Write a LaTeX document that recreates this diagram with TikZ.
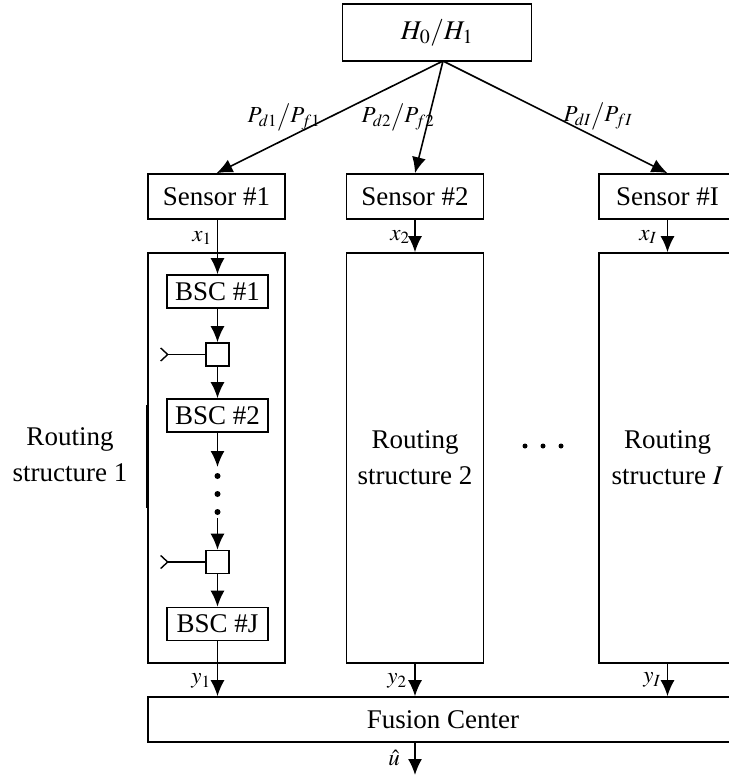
\documentclass[tikz,border=0pt]{standalone}
\usepackage{mathptmx}
\usepackage{fontspec}
\setmainfont{Liberation Serif}
\usetikzlibrary{arrows.meta}

\begin{document}
\begin{tikzpicture}[x=1pt,y=-1pt,line width=1.6pt,
    every node/.style={font=\fontsize{27}{36}\selectfont},
    box/.style={draw,rectangle,inner sep=0pt},
    sensorbox/.style={box,minimum width=137pt,minimum height=45pt},
    routebox/.style={box,minimum width=137pt,minimum height=410pt,align=center},
    bscbox/.style={box,minimum width=101pt,minimum height=33pt},
    mixbox/.style={box,minimum width=23pt,minimum height=23pt},
    lbl/.style={inner sep=0.5pt,font=\fontsize{23}{28}\selectfont},
    arr/.style={-{Latex[length=16pt,width=14pt]}},
    feed/.style={{Straight Barb[reversed,length=7pt,width=13pt,line width=1.4pt]}-},
    dot/.style={circle,fill,inner sep=0pt,minimum size=6pt}]
    \useasboundingbox (0,0) rectangle (728,778);
      % hypothesis
      \node[box,minimum width=189pt,minimum height=57pt] (hyp) at (437,32.5) {$H_0/H_1$};
      \coordinate (top) at (443,61);
      % sensors
      \node[sensorbox] (s1) at (216.5,196.5) {Sensor \#1};
      \node[sensorbox] (s2) at (415,196.5) {Sensor \#2};
      \node[sensorbox] (sI) at (667.5,196.5) {Sensor \#I};
      % routing structures
      \node[routebox] (r1) at (216.5,458) {};
      \node[routebox] (r2) at (415,458) {Routing\\structure 2};
      \node[routebox] (rI) at (667.5,458) {Routing\\structure $I$};
      \node[align=center] (r1txt) at (70,455) {Routing\\structure 1};
      \draw[line width=2.6pt] (147.4,405) -- (147.4,508);
      \node[dot,minimum size=5pt] (h1) at (525,446) {};
      \node[dot,minimum size=5pt] (h2) at (543,446) {};
      \node[dot,minimum size=5pt] (h3) at (561,446) {};
      % chain in routing structure 1
      \node[bscbox] (bsc1) at (217.5,291.5) {BSC \#1};
      \node[mixbox] (m1) at (217.5,354.5) {};
      \node[bscbox] (bsc2) at (217.5,415.5) {BSC \#2};
      \coordinate (d0) at (217.5,467);
      \node[dot] (v1) at (217.5,476) {};
      \node[dot] (v2) at (217.5,494) {};
      \node[dot] (v3) at (217.5,512) {};
      \coordinate (d1) at (217.5,518);
      \node[mixbox] (m2) at (217.5,562) {};
      \node[bscbox] (bscJ) at (217.5,624) {BSC \#J};
      \coordinate (in1) at (160,354.5);
      \coordinate (in2) at (160,562);
      % fusion center
      \node[box,minimum width=590pt,minimum height=45pt] (fc) at (443,719.5) {Fusion Center};
      \coordinate (out) at (415,775);
      % Edges hyp
      \draw[arr] (top) -- (s1.north);
      \draw[arr] (top) -- (s2.north);
      \draw[arr] (top) -- (sI.north);
      \node[lbl] (p1) at (284,117) {$P_{d1}\big/P_{f1}$};
      \node[lbl] (p2) at (398,117) {$P_{d2}\big/P_{f2}$};
      \node[lbl] (pI) at (598,116) {$P_{dI}\big/P_{fI}$};
      % Edges sensors
      \draw[arr] (s1.south -| bsc1.north) -- (bsc1.north);
      \draw[arr] (s2.south) -- (r2.north);
      \draw[arr] (sI.south) -- (rI.north);
      \node[lbl] (x1) at (202,238) {$x_1$};
      \node[lbl] (x2) at (400,237) {$x_2$};
      \node[lbl] (xI) at (648,237) {$x_I$};
      % Edges chain
      \draw[arr] (bsc1) -- (m1);
      \draw[arr] (m1) -- (bsc2);
      \draw[arr] (bsc2) -- (d0);
      \draw[arr] (d1) -- (m2);
      \draw[arr] (m2) -- (bscJ);
      \draw[feed] (in1) -- (m1.west);
      \draw[feed] (in2) -- (m2.west);
      % Edges fusion
      \draw[arr] (bscJ.south) -- (bscJ.south |- fc.north);
      \draw[arr] (r2.south) -- (r2.south |- fc.north);
      \draw[arr] (rI.south) -- (rI.south |- fc.north);
      \draw[arr] (fc.south -| out) -- (out);
      \node[lbl] (y1) at (201,681) {$y_1$};
      \node[lbl] (y2) at (397,681) {$y_2$};
      \node[lbl] (yI) at (652,680) {$y_I$};
      \node[lbl] (uhat) at (394,758) {$\hat{u}$};
\end{tikzpicture}
\end{document}
